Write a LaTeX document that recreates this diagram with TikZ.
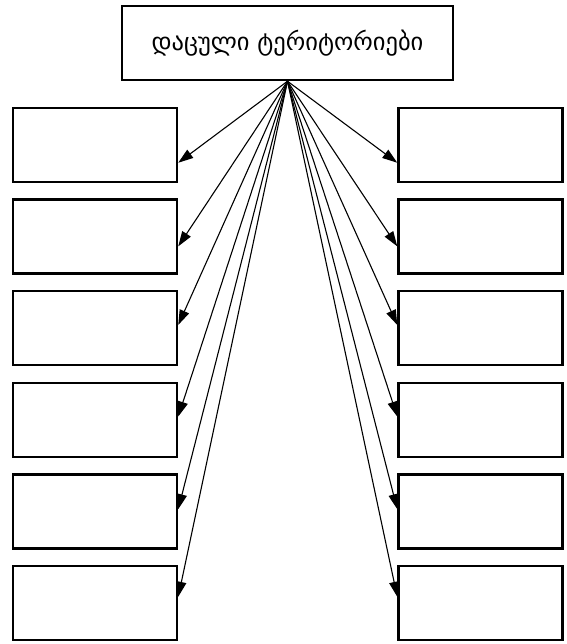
\documentclass[tikz,border=0pt]{standalone}
\usepackage{fontspec}
\newfontfamily\geofont{DejaVu Sans}
\usetikzlibrary{positioning,arrows.meta}

\begin{document}
\begin{tikzpicture}[
x=1pt,y=1pt,
node distance=15.1pt,
box/.style={draw,line width=2.5pt,minimum width=164pt,minimum height=74pt},
link/.style={-{Triangle[length=15pt,width=10pt]},line width=1.1pt},
]
\useasboundingbox (0,0) rectangle (566,-644);
\node[box,minimum width=331pt,font=\geofont\fontsize{24.5}{28}\selectfont] (top) at (287.5,-43) {დაცული ტერიტორიები};

\node[box] (l1) at (95,-145) {};
\node[box,below=of l1] (l2) {};
\node[box,below=of l2] (l3) {};
\node[box,below=of l3] (l4) {};
\node[box,below=of l4] (l5) {};
\node[box,below=of l5] (l6) {};

\node[box] (r1) at (480.5,-145) {};
\node[box,below=of r1] (r2) {};
\node[box,below=of r2] (r3) {};
\node[box,below=of r3] (r4) {};
\node[box,below=of r4] (r5) {};
\node[box,below=of r5] (r6) {};

\foreach \i/\d in {1/56,2/48,3/35,4/35,5/36,6/32}{
  \draw[link] (top.south) -- ([yshift=-\d pt]l\i.north east);
  \draw[link] (top.south) -- ([yshift=-\d pt]r\i.north west);
}
\end{tikzpicture}
\end{document}
